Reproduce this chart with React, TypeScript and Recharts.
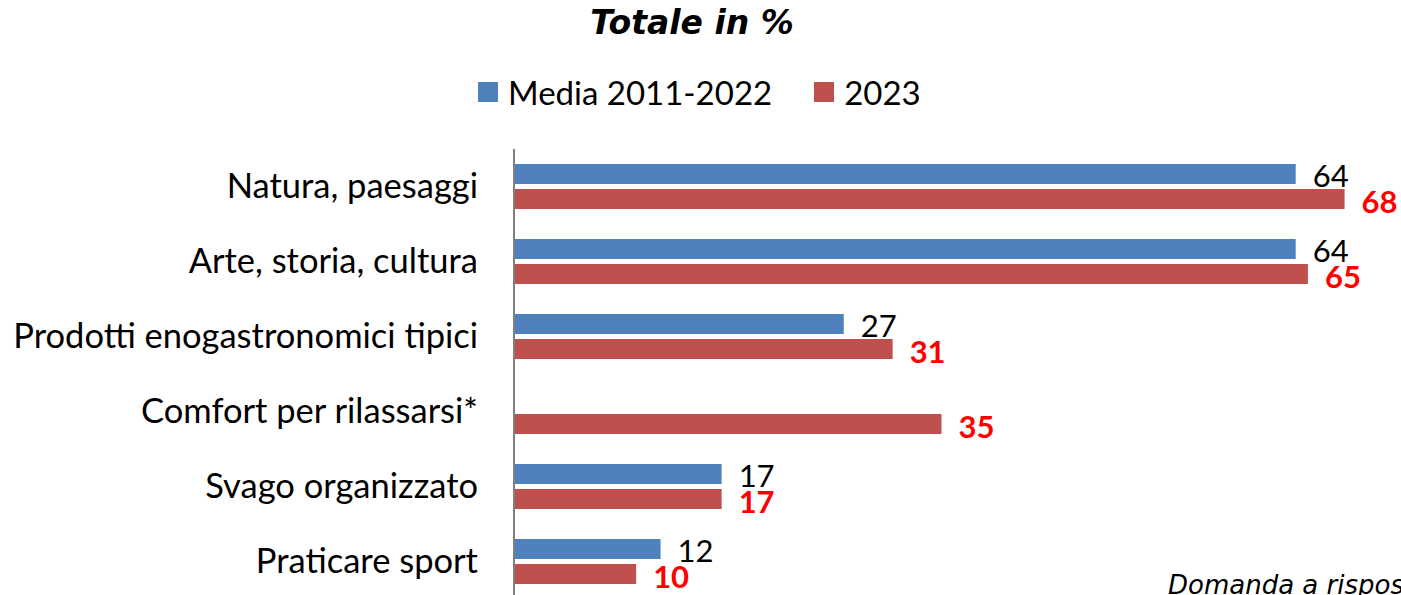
import { BarChart, Bar, XAxis, YAxis, LabelList } from 'recharts';

const BLUE = '#4F81BD';
const RED = '#C0504D';

const categories = [
  'Natura, paesaggi',
  'Arte, storia, cultura',
  'Prodotti enogastronomici tipici',
  'Comfort per rilassarsi*',
  'Svago organizzato',
  'Praticare sport',
];
const media20112022: (number | null)[] = [64, 64, 27, null, 17, 12];
const anno2023 = [68, 65, 31, 35, 17, 10];

const data = categories.map((name, i) => ({
  name,
  media: media20112022[i],
  y2023: anno2023[i],
}));

const FONT = 'Lato, "Open Sans", sans-serif';

function CategoryTick({ x, y, payload }: any) {
  return (
    <text x={x} y={y} dy={11} textAnchor="end" fontFamily={FONT} fontSize={34.5} fill="#000">
      {payload.value}
    </text>
  );
}

export default function App() {
  return (
    <div style={{ position: 'fixed', left: 0, top: 0, width: 1401, height: 595, overflow: 'hidden', background: '#fff' }}>
      <div
        style={{
          position: 'absolute', top: 3, left: 0, width: 1384, textAlign: 'center',
          fontFamily: '"DejaVu Sans", sans-serif', fontWeight: 'bold', fontStyle: 'italic', fontSize: 33,
        }}
      >
        Totale in %
      </div>
      <div
        style={{
          position: 'absolute', top: 72, left: 478, display: 'flex', alignItems: 'center',
          fontFamily: FONT, fontSize: 33, color: '#000',
        }}
      >
        <span style={{ width: 20, height: 20, background: BLUE, display: 'inline-block', marginRight: 10 }} />
        <span>Media 2011-2022</span>
        <span style={{ width: 20, height: 20, background: RED, display: 'inline-block', marginLeft: 42, marginRight: 10 }} />
        <span>2023</span>
      </div>
      <div style={{ position: 'absolute', top: 0, left: 0 }}>
        <BarChart
          width={1401}
          height={604}
          data={data}
          layout="vertical"
          margin={{ top: 149, right: 32, bottom: 5, left: 0 }}
          barSize={20}
          barGap={5}
        >
          <XAxis type="number" domain={[0, 70]} hide />
          <YAxis
            type="category"
            dataKey="name"
            width={514}
            axisLine={{ stroke: '#808080', strokeWidth: 2 }}
            tickLine={false}
            tickMargin={30}
            tick={<CategoryTick />}
            interval={0}
          />
          <Bar dataKey="media" fill={BLUE} isAnimationActive={false}>
            <LabelList dataKey="media" position="right" offset={17} fill="#000" fontFamily={FONT} fontSize={31} dy={2} />
          </Bar>
          <Bar dataKey="y2023" fill={RED} isAnimationActive={false}>
            <LabelList
              dataKey="y2023"
              position="right"
              offset={17}
              fill="#FF0000"
              fontFamily={FONT}
              fontWeight="bold"
              fontSize={31}
              dy={3}
            />
          </Bar>
        </BarChart>
      </div>
      <div
        style={{
          position: 'absolute', top: 570, left: 1168, whiteSpace: 'nowrap',
          fontFamily: '"DejaVu Sans", sans-serif', fontStyle: 'italic', fontSize: 26,
        }}
      >
        Domanda a risposta multipla
      </div>
    </div>
  );
}
